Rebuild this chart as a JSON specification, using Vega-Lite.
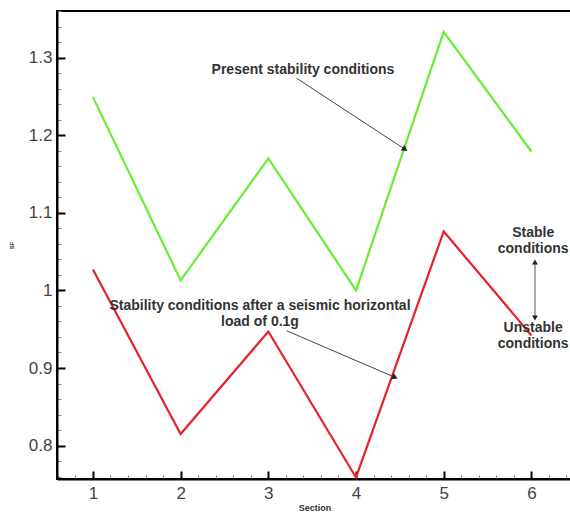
{
  "$schema": "https://vega.github.io/schema/vega-lite/v6.json",
  "autosize": {"type": "none"},
  "padding": {"left": 57, "top": 11, "right": 0, "bottom": 35},
  "width": 515,
  "height": 468,
  "background": "white",
  "config": {
    "view": {"stroke": "black", "strokeWidth": 2},
    "axis": {"grid": false, "domainColor": "black", "domainWidth": 2, "tickColor": "black", "labelFont": "Liberation Sans", "labelColor": "#444", "labelFontSize": 17, "titleFont": "Liberation Sans"},
    "text": {"font": "Liberation Sans"}
  },
  "datasets": {
    "series": [
      {"section": 1, "fs": 1.249, "series": "Present"},
      {"section": 2, "fs": 1.013, "series": "Present"},
      {"section": 3, "fs": 1.170, "series": "Present"},
      {"section": 4, "fs": 1.000, "series": "Present"},
      {"section": 5, "fs": 1.333, "series": "Present"},
      {"section": 6, "fs": 1.179, "series": "Present"},
      {"section": 1, "fs": 1.027, "series": "Seismic"},
      {"section": 2, "fs": 0.815, "series": "Seismic"},
      {"section": 3, "fs": 0.947, "series": "Seismic"},
      {"section": 4, "fs": 0.759, "series": "Seismic"},
      {"section": 5, "fs": 1.076, "series": "Seismic"},
      {"section": 6, "fs": 0.942, "series": "Seismic"}
    ],
    "labels": [
      {"x": 3.395, "y": 1.284, "text": "Present stability conditions"},
      {"x": 2.905, "y": 0.9805, "text": "Stability conditions after a seismic horizontal"},
      {"x": 2.905, "y": 0.9595, "text": "load of 0.1g"},
      {"x": 6.02, "y": 1.0735, "text": "Stable"},
      {"x": 6.02, "y": 1.0529, "text": "conditions"},
      {"x": 6.02, "y": 0.9511, "text": "Unstable"},
      {"x": 6.02, "y": 0.9309, "text": "conditions"}
    ],
    "arrows": [
      {"arrow": "present", "x": 3.323, "y": 1.2733, "x2": 4.559, "y2": 1.1818},
      {"arrow": "seismic", "x": 3.209, "y": 0.948, "x2": 4.444, "y2": 0.888},
      {"arrow": "limit", "x": 6.041, "y": 1.0366, "x2": 6.041, "y2": 0.9644}
    ]
  },
  "layer": [
    {
      "data": {"name": "series"},
      "mark": {"type": "line", "opacity": 0},
      "encoding": {
        "x": {"field": "section", "type": "quantitative", "scale": {"domain": [0.59, 6.463], "nice": false, "zero": false},
          "axis": {"orient": "bottom", "values": [0.6, 0.8, 1.2, 1.4, 1.6, 1.8, 2.2, 2.4, 2.6, 2.8, 3.2, 3.4, 3.6, 3.8, 4.2, 4.4, 4.6, 4.8, 5.2, 5.4, 5.6, 5.8, 6.2, 6.4], "labels": false, "title": null, "domain": false, "tickSize": -4, "tickWidth": 1, "tickColor": "#888"}},
        "y": {"field": "fs", "type": "quantitative", "scale": {"domain": [0.757, 1.36], "nice": false, "zero": false},
          "axis": {"orient": "left", "values": [0.76, 0.78, 0.82, 0.84, 0.86, 0.88, 0.92, 0.94, 0.96, 0.98, 1.02, 1.04, 1.06, 1.08, 1.12, 1.14, 1.16, 1.18, 1.22, 1.24, 1.26, 1.28, 1.32, 1.34, 1.36], "labels": false, "title": null, "domain": false, "tickSize": -4, "tickWidth": 1, "tickColor": "#888"}}
      }
    },
    {
      "data": {"name": "series"},
      "mark": {"type": "line", "strokeWidth": 2.2},
      "encoding": {
        "x": {"field": "section", "type": "quantitative",
          "axis": {"orient": "bottom", "values": [1, 2, 3, 4, 5, 6], "tickSize": -8, "tickWidth": 2, "labelPadding": 14, "title": "Section", "titleFontSize": 9, "titleFontWeight": "bold", "titleColor": "#333", "titlePadding": 2}},
        "y": {"field": "fs", "type": "quantitative",
          "axis": {"orient": "left", "values": [0.8, 0.9, 1, 1.1, 1.2, 1.3], "format": "~g", "tickSize": -8, "tickWidth": 2, "labelPadding": 13, "title": "SF", "titleFontSize": 6, "titleColor": "#333", "titlePadding": 14}},
        "color": {"field": "series", "type": "nominal", "scale": {"domain": ["Present", "Seismic"], "range": ["#66EE33", "#E8202A"]}, "legend": null}
      }
    },
    {
      "mark": {"type": "rule", "color": "black", "strokeWidth": 2},
      "encoding": {"y": {"datum": 1, "axis": null}}
    },
    {
      "data": {"name": "arrows"},
      "transform": [{"filter": "datum.arrow != 'limit'"}],
      "mark": {"type": "rule", "color": "#444", "strokeWidth": 1},
      "encoding": {"x": {"field": "x", "type": "quantitative", "axis": null}, "y": {"field": "y", "type": "quantitative", "axis": null}, "x2": {"field": "x2"}, "y2": {"field": "y2"}}
    },
    {
      "data": {"name": "arrows"},
      "transform": [{"filter": "datum.arrow == 'limit'"}],
      "mark": {"type": "rule", "color": "#aaa", "strokeWidth": 2},
      "encoding": {"x": {"field": "x", "type": "quantitative", "axis": null}, "y": {"field": "y", "type": "quantitative", "axis": null}, "x2": {"field": "x2"}, "y2": {"field": "y2"}}
    },
    {
      "data": {"name": "arrows"},
      "transform": [{"filter": "datum.arrow == 'present'"}],
      "mark": {"type": "point", "shape": "triangle-up", "filled": true, "color": "#222", "size": 45, "angle": 123, "opacity": 1},
      "encoding": {"x": {"field": "x2", "type": "quantitative", "axis": null}, "y": {"field": "y2", "type": "quantitative", "axis": null}}
    },
    {
      "data": {"name": "arrows"},
      "transform": [{"filter": "datum.arrow == 'seismic'"}],
      "mark": {"type": "point", "shape": "triangle-up", "filled": true, "color": "#222", "size": 45, "angle": 113, "opacity": 1},
      "encoding": {"x": {"field": "x2", "type": "quantitative", "axis": null}, "y": {"field": "y2", "type": "quantitative", "axis": null}}
    },
    {
      "data": {"name": "arrows"},
      "transform": [{"filter": "datum.arrow == 'limit'"}],
      "mark": {"type": "point", "shape": "triangle-up", "filled": true, "color": "#222", "size": 35, "opacity": 1},
      "encoding": {"x": {"field": "x", "type": "quantitative", "axis": null}, "y": {"field": "y", "type": "quantitative", "axis": null}}
    },
    {
      "data": {"name": "arrows"},
      "transform": [{"filter": "datum.arrow == 'limit'"}],
      "mark": {"type": "point", "shape": "triangle-down", "filled": true, "color": "#222", "size": 35, "opacity": 1},
      "encoding": {"x": {"field": "x2", "type": "quantitative", "axis": null}, "y": {"field": "y2", "type": "quantitative", "axis": null}}
    },
    {
      "data": {"name": "labels"},
      "mark": {"type": "text", "fontWeight": "bold", "fontSize": 14, "color": "#333", "align": "center", "baseline": "middle"},
      "encoding": {"x": {"field": "x", "type": "quantitative", "axis": null}, "y": {"field": "y", "type": "quantitative", "axis": null}, "text": {"field": "text"}}
    }
  ],
  "resolve": {"axis": {"x": "independent", "y": "independent"}}
}
